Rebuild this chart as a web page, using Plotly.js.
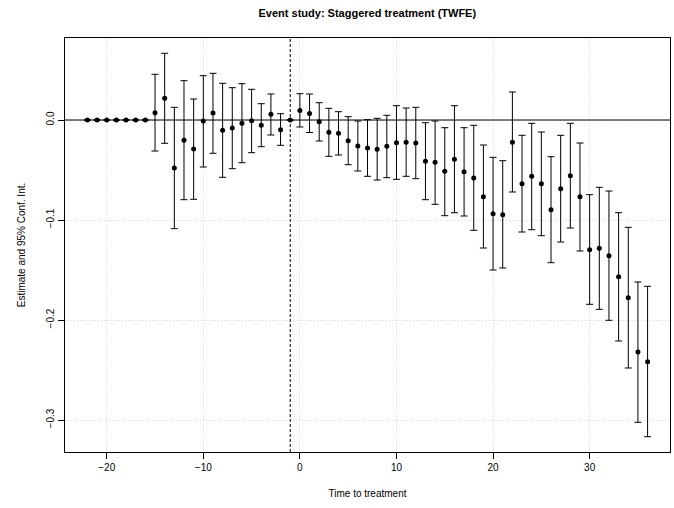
<!DOCTYPE html>
<html>
<head>
<meta charset="utf-8">
<script src="https://cdn.plot.ly/plotly-3.0.1.min.js"></script>
<style>html,body{margin:0;padding:0;background:#fff}#chart{width:674px;height:508px}</style>
</head>
<body>
<div id="chart"></div>
<script>
var periods = [-22,-21,-20,-19,-18,-17,-16,-15,-14,-13,-12,-11,-10,-9,-8,-7,-6,-5,-4,-3,-2,-1,0,1,2,3,4,5,6,7,8,9,10,11,12,13,14,15,16,17,18,19,20,21,22,23,24,25,26,27,28,29,30,31,32,33,34,35,36];
var estimate = [0,0,0,0,0,0,0,0.0073,0.0217,-0.048,-0.0203,-0.029,-0.001,0.007,-0.0103,-0.008,-0.0033,-0.0007,-0.0053,0.0057,-0.0097,0,0.0095,0.0065,-0.0017,-0.0123,-0.0133,-0.0207,-0.026,-0.028,-0.0293,-0.0263,-0.0227,-0.0223,-0.023,-0.0413,-0.0423,-0.0513,-0.0393,-0.0517,-0.058,-0.0767,-0.0937,-0.0947,-0.0223,-0.0637,-0.0563,-0.0637,-0.0897,-0.0687,-0.0557,-0.0767,-0.1297,-0.1283,-0.1357,-0.1567,-0.1777,-0.232,-0.2417];
var ciHigh = [null,null,null,null,null,null,null,0.0457,0.0667,0.0127,0.0393,0.021,0.0443,0.0467,0.0367,0.0323,0.0363,0.0307,0.0163,0.026,0.0063,null,0.0263,0.026,0.0173,0.0117,0.0083,0.0033,-0.001,0.0003,0.0017,0.0047,0.0143,0.012,0.0127,-0.0027,-0.001,-0.0077,0.0143,-0.0077,-0.0053,-0.025,-0.0373,-0.0407,0.028,-0.0153,-0.0033,-0.012,-0.0367,-0.0153,-0.0033,-0.023,-0.0747,-0.0673,-0.071,-0.0927,-0.1073,-0.162,-0.1663];
var ciLow = [null,null,null,null,null,null,null,-0.031,-0.0233,-0.1087,-0.0797,-0.0793,-0.047,-0.0333,-0.0573,-0.0487,-0.0427,-0.0327,-0.0267,-0.015,-0.0253,null,-0.007,-0.0125,-0.021,-0.0363,-0.035,-0.0447,-0.051,-0.0563,-0.06,-0.0577,-0.0593,-0.0563,-0.0587,-0.0797,-0.0843,-0.0957,-0.0927,-0.096,-0.1103,-0.128,-0.15,-0.148,-0.072,-0.112,-0.1097,-0.1157,-0.1427,-0.122,-0.108,-0.131,-0.1843,-0.1893,-0.2003,-0.221,-0.248,-0.3023,-0.3167];
var xTicks = [-20,-10,0,10,20,30];
var xTickText = ['\u221220','\u221210','0','10','20','30'];
var yTicks = [0,-0.1,-0.2,-0.3];
var yTickText = ['0.0','\u22120.1','\u22120.2','\u22120.3'];
var refPeriod = -1;

var errPlus = estimate.map(function(e,i){ return ciHigh[i]===null ? null : ciHigh[i]-e; });
var errMinus = estimate.map(function(e,i){ return ciLow[i]===null ? null : e-ciLow[i]; });

var trace = {
  x: periods, y: estimate, type: 'scatter', mode: 'markers',
  marker: {color: '#000', size: 5},
  error_y: {type: 'data', symmetric: false, array: errPlus, arrayminus: errMinus,
            color: '#000', thickness: 1, width: 3.5},
  hoverinfo: 'x+y'
};

var axisFont = {family: 'Liberation Sans, Arial, sans-serif', size: 10, color: '#000'};
var layout = {
  width: 674, height: 508,
  margin: {l: 65, r: 4, t: 38, b: 56},
  paper_bgcolor: '#fff', plot_bgcolor: '#fff',
  showlegend: false,
  title: {text: '<b>Event study: Staggered treatment (TWFE)</b>', x: 0.545, xanchor: 'center', y: 0.975, yanchor: 'middle',
          font: {family: 'Liberation Sans, Arial, sans-serif', size: 11, color: '#000'}},
  xaxis: {range: [-24.32, 38.32], tickvals: xTicks, ticktext: xTickText, ticks: 'outside', ticklen: 6, tickcolor: '#000',
          showline: true, mirror: true, linecolor: '#000', linewidth: 1, zeroline: false,
          showgrid: true, gridcolor: '#d9d9d9', griddash: '1px,2px', gridwidth: 1,
          tickfont: axisFont,
          title: {text: 'Time to treatment', font: axisFont, standoff: 17}},
  yaxis: {range: [-0.332, 0.082], tickvals: yTicks, ticktext: yTickText, ticks: 'outside', ticklen: 6, tickcolor: '#000',
          tickangle: -90,
          showline: true, mirror: true, linecolor: '#000', linewidth: 1, zeroline: false,
          showgrid: true, gridcolor: '#d9d9d9', griddash: '1px,2px', gridwidth: 1,
          tickfont: axisFont,
          title: {text: 'Estimate and 95% Conf. Int.', font: axisFont, standoff: 17}},
  shapes: [
    {type: 'line', xref: 'paper', yref: 'y', x0: 0, x1: 1, y0: 0, y1: 0, line: {color: '#000', width: 1}, layer: 'above'},
    {type: 'line', xref: 'x', yref: 'paper', x0: refPeriod, x1: refPeriod, y0: 0, y1: 1, line: {color: '#000', width: 1, dash: '3px,2px'}, layer: 'above'}
  ]
};
Plotly.newPlot('chart', [trace], layout, {displayModeBar: false, staticPlot: true});
</script>
</body>
</html>
